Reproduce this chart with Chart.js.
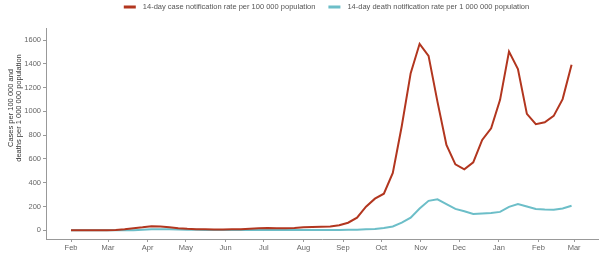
<!DOCTYPE html>
<html><head><meta charset="utf-8">
<script src="https://cdn.jsdelivr.net/npm/chart.js@4"></script>
<style>html,body{margin:0;padding:0;background:#fff}#wrap{width:602px;height:255px}</style>
</head><body><div id="wrap"><canvas id="c" width="602" height="255"></canvas></div>
<script>
// ---- data ----
const seriesNames = [
  '14-day case notification rate per 100 000 population',
  '14-day death notification rate per 1 000 000 population'
];
const yTitleLines = ['Cases per 100 000 and', 'deaths per 1 000 000 population'];
const monthTickLabels = ['Feb','Mar','Apr','May','Jun','Jul','Aug','Sep','Oct','Nov','Dec','Jan','Feb','Mar'];
const monthTickDays   = [31,60,91,121,152,182,213,244,274,305,335,366,397,425]; // days since 1 Jan 2020
const yTickValues = [0,200,400,600,800,1000,1200,1400,1600];
const firstWeekDay = 31; // weekly points start 1 Feb 2020
const caseRate = [
  0,0,0,0,1,3,8,18,25,34,
  32,25,18,13,10,8,7,7,8,10,
  13,17,20,18,17,20,25,28,30,33,
  42,64,106,199,266,308,482,875,1321,1568,
  1467,1080,718,555,513,572,760,858,1097,1503,
  1355,979,892,909,962,1103,1391
];
const deathRate = [
  0,0,0,0,0,0,0,1,4,8,
  10,9,7,5,4,3,2,2,2,2,
  2,2,2,2,2,2,2,2,2,2,
  3,4,5,8,12,20,32,64,106,183,
  248,261,221,180,160,138,142,146,155,197,
  221,200,180,174,173,184,207
];
const seriesColors = ['#b2361f', '#6cbec8'];

// ---- chart ----
const FONT = '"Liberation Sans", Arial, sans-serif';
const toPts = arr => arr.map((v, i) => ({x: firstWeekDay + 7 * i, y: v}));

const overlay = {
  id: 'overlay',
  afterDraw(chart) {
    const ctx = chart.ctx;
    ctx.save();
    ctx.font = '7.5px ' + FONT;
    ctx.textBaseline = 'middle';
    const w = seriesNames.map(t => ctx.measureText(t).width);
    const box = 12, gapT = 7, gapI = 13;
    const total = box + gapT + w[0] + gapI + box + gapT + w[1];
    let x = 326.5 - total / 2;
    const y = 7;
    seriesNames.forEach((t, i) => {
      ctx.fillStyle = seriesColors[i];
      ctx.fillRect(x, y - 1.5, box, 3);
      ctx.fillStyle = '#555';
      ctx.textAlign = 'left';
      ctx.fillText(t, x + box + gapT, y);
      x += box + gapT + w[i] + gapI;
    });
    ctx.fillStyle = '#333';
    ctx.textAlign = 'center';
    const xs = [10.5, 18.5];
    yTitleLines.forEach((t, i) => {
      ctx.save();
      ctx.translate(xs[i], 108);
      ctx.rotate(-Math.PI / 2);
      ctx.fillText(t, 0, 0);
      ctx.restore();
    });
    ctx.restore();
  }
};

new Chart(document.getElementById('c'), {
  type: 'line',
  data: {
    datasets: [
      {label: seriesNames[0], data: toPts(caseRate), borderColor: seriesColors[0], backgroundColor: seriesColors[0], borderWidth: 2, pointRadius: 0, tension: 0, fill: false},
      {label: seriesNames[1], data: toPts(deathRate), borderColor: seriesColors[1], backgroundColor: seriesColors[1], borderWidth: 2, pointRadius: 0, tension: 0, fill: false}
    ]
  },
  options: {
    responsive: false,
    animation: false,
    layout: {padding: {top: 28, right: 4, left: 0, bottom: 0}},
    plugins: {legend: {display: false}, tooltip: {enabled: false}},
    scales: {
      x: {
        type: 'linear', min: 11.4, max: 443.7,
        afterBuildTicks: s => { s.ticks = monthTickDays.map(v => ({value: v})); },
        afterFit: s => { s.height = 16; },
        ticks: {autoSkip: false, maxRotation: 0, padding: 1, color: '#666', font: {family: FONT, size: 7.5},
          callback: (v, i) => monthTickLabels[i]},
        grid: {drawOnChartArea: false, tickLength: 3, color: '#999'},
        border: {color: '#999'}
      },
      y: {
        min: -73, max: 1701,
        afterBuildTicks: s => { s.ticks = yTickValues.map(v => ({value: v})); },
        afterFit: s => { s.width = 46; },
        ticks: {autoSkip: false, padding: 2, color: '#666', font: {family: FONT, size: 7.5},
          callback: (v, i) => String(yTickValues[i])},
        grid: {drawOnChartArea: false, tickLength: 3, color: '#999'},
        border: {color: '#999'}
      }
    }
  },
  plugins: [overlay]
});
</script>
</body></html>
